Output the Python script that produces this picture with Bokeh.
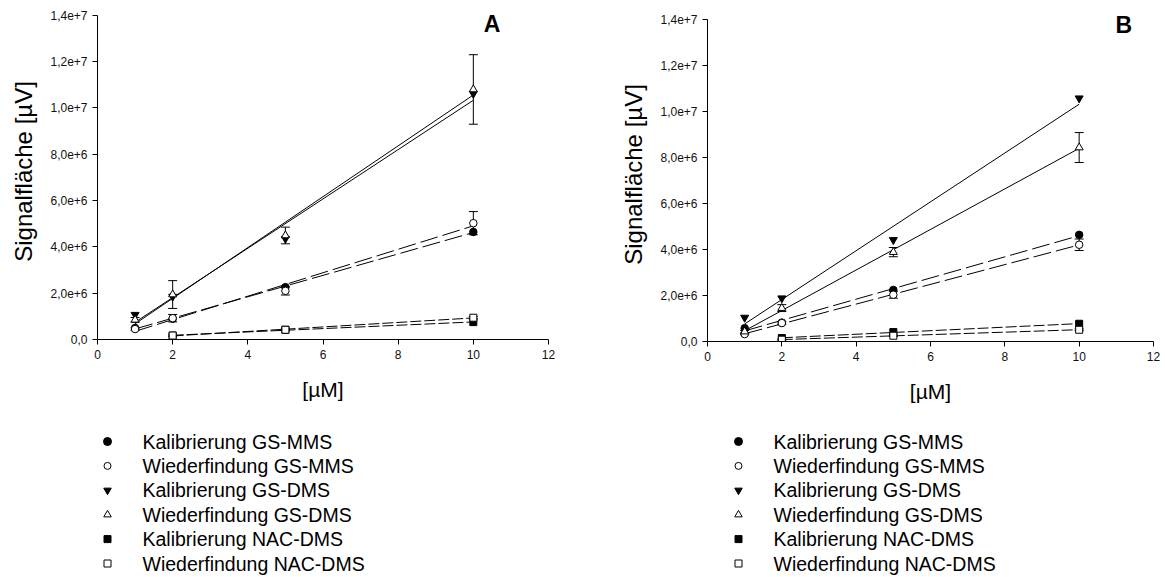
import numpy as np
from bokeh.plotting import figure
from bokeh.models import (ColumnDataSource, Whisker, TeeHead, Label, Range1d,
                          FixedTicker)
from bokeh.layouts import row, column
from bokeh.embed import file_html
from bokeh.resources import INLINE
from bokeh.core.properties import value

# ---------------- data ----------------
x_gs = [1, 2, 5, 10]
x_nac = [2, 5, 10]

legend_labels = ["Kalibrierung GS-MMS", "Wiederfindung GS-MMS",
                 "Kalibrierung GS-DMS", "Wiederfindung GS-DMS",
                 "Kalibrierung NAC-DMS", "Wiederfindung NAC-DMS"]

# Panel A
a_kal_mms = [0.50e6, 0.90e6, 2.26e6, 4.64e6]
a_wf_mms = [0.45e6, 0.92e6, 2.10e6, 5.02e6]
a_wf_mms_err = [0.05e6, 0.16e6, 0.18e6, 0.50e6]
a_kal_dms = [1.07e6, 1.85e6, 4.35e6, 10.61e6]
a_wf_dms = [0.85e6, 1.94e6, 4.49e6, 10.79e6]
a_wf_dms_err = [0.10e6, 0.60e6, 0.36e6, 1.50e6]
a_kal_nac = [0.17e6, 0.42e6, 0.75e6]
a_wf_nac = [0.17e6, 0.42e6, 0.94e6]
a_wf_nac_err = [0.03e6, 0.04e6, 0.05e6]

# Panel B
b_kal_mms = [0.58e6, 0.82e6, 2.24e6, 4.63e6]
b_wf_mms = [0.32e6, 0.80e6, 2.03e6, 4.20e6]
b_wf_mms_err = [0.03e6, 0.06e6, 0.15e6, 0.25e6]
b_kal_dms = [1.04e6, 1.88e6, 4.41e6, 10.56e6]
b_wf_dms = [0.43e6, 1.45e6, 3.88e6, 8.42e6]
b_wf_dms_err = [0.05e6, 0.15e6, 0.20e6, 0.65e6]
b_kal_nac = [0.15e6, 0.41e6, 0.77e6]
b_wf_nac = [0.08e6, 0.25e6, 0.51e6]
b_wf_nac_err = [0.02e6, 0.03e6, 0.04e6]

x_ticks = [0, 2, 4, 6, 8, 10, 12]
y_ticks = [0, 2e6, 4e6, 6e6, 8e6, 10e6, 12e6, 14e6]
y_tick_labels = ["0,0", "2,0e+6", "4,0e+6", "6,0e+6", "8,0e+6",
                 "1,0e+7", "1,2e+7", "1,4e+7"]

FONT = "Liberation Sans"
Y_TOP = 1.45e7


def make_panel(letter, letter_pos, series, frame, col_w, fig_h):
    bl, bt, fw, fh = frame
    p = figure(width=col_w, height=fig_h, x_range=Range1d(0, 12),
               y_range=Range1d(0, Y_TOP), output_backend="svg",
               toolbar_location=None,
               min_border_left=bl, min_border_top=bt,
               min_border_right=col_w - bl - fw,
               min_border_bottom=fig_h - bt - fh)
    p.grid.visible = False
    p.outline_line_color = None
    p.background_fill_color = "white"
    p.border_fill_color = "white"

    for ax in (p.xaxis[0], p.yaxis[0]):
        ax.axis_line_color = "black"
        ax.axis_line_width = 1
        ax.major_tick_line_color = "black"
        ax.major_tick_out = 5
        ax.major_tick_in = 0
        ax.minor_tick_line_color = None
        ax.major_label_text_font = FONT
        ax.major_label_text_font_size = "12px"
        ax.major_label_text_color = "#111111"
        ax.axis_label_text_font = FONT
        ax.axis_label_text_font_style = "normal"
        ax.axis_label_text_color = "black"

    p.xaxis.ticker = FixedTicker(ticks=x_ticks)
    p.yaxis.ticker = FixedTicker(ticks=y_ticks)
    p.yaxis.bounds = (y_ticks[0], y_ticks[-1])
    p.yaxis.major_label_overrides = {t: l for t, l in zip(y_ticks, y_tick_labels)}
    p.xaxis.axis_label = "[µM]"
    p.xaxis.axis_label_text_font_size = "21px"
    p.xaxis.major_label_standoff = 5
    p.xaxis.axis_label_standoff = 16
    p.yaxis.axis_label = "Signalfläche [µV]"
    p.yaxis.axis_label_text_font_size = "24px"
    p.yaxis.major_label_standoff = 5
    p.yaxis.axis_label_standoff = 10

    dashes = {"mms": "18 5", "dms": "solid", "nac": "11 3"}
    # regression lines
    for xs, ys, kind in series["lines"]:
        k, d = np.polyfit(xs, ys, 1)
        xl = [xs[0], xs[-1]]
        yl = [k * xs[0] + d, k * xs[-1] + d]
        p.line(xl, yl, line_color="black", line_width=1,
               line_dash=dashes[kind])
    # error bars
    for xs, ys, es in series["errors"]:
        src = ColumnDataSource(dict(x=xs,
                                    up=[y + e for y, e in zip(ys, es)],
                                    lo=[y - e for y, e in zip(ys, es)]))
        w = Whisker(base="x", upper="up", lower="lo", source=src,
                    line_color="black", line_width=1,
                    upper_head=TeeHead(size=9, line_color="black", line_width=1),
                    lower_head=TeeHead(size=9, line_color="black", line_width=1))
        p.add_layout(w)
    # markers
    for xs, ys, marker, filled, size in series["markers"]:
        p.scatter(xs, ys, marker=marker, size=size,
                  fill_color="black" if filled else "white",
                  line_color="black", line_width=1)

    p.add_layout(Label(x=letter_pos[0], y=letter_pos[1], text=letter,
                       text_font=FONT, text_font_size="23px",
                       text_font_style="bold", text_align="center",
                       text_baseline="middle", text_color="black"))
    return p


def make_legend(col_w, leg_h, frame, mx, tx, y0, dy):
    bl, bt, fw, fh = frame
    q = figure(width=col_w, height=leg_h, x_range=Range1d(0, fw),
               y_range=Range1d(leg_h, 0), output_backend="svg",
               toolbar_location=None, min_border_left=bl,
               min_border_right=col_w - bl - fw, min_border_top=0,
               min_border_bottom=0)
    q.axis.visible = False
    q.grid.visible = False
    q.outline_line_color = None
    markers = ["circle", "circle", "inverted_triangle", "triangle",
               "square", "square"]
    filled = [True, False, True, False, True, False]
    sizes = [8, 7, 7.5, 7.5, 7, 7]
    ys = [y0 + dy * i for i in range(len(legend_labels))]
    for i in range(len(legend_labels)):
        q.scatter([mx], [ys[i]], marker=markers[i], size=sizes[i],
                  fill_color="black" if filled[i] else "white",
                  line_color="black", line_width=1)
    q.text(x=[tx] * len(legend_labels), y=ys, text=legend_labels,
           text_font=value(FONT), text_font_size="19.5px",
           text_baseline="middle", text_align="left", text_color="black")
    return q


series_a = {
    "lines": [(x_gs, a_kal_mms, "mms"), (x_gs, a_wf_mms, "mms"),
              (x_gs, a_kal_dms, "dms"), (x_gs, a_wf_dms, "dms"),
              (x_nac, a_kal_nac, "nac"), (x_nac, a_wf_nac, "nac")],
    "errors": [(x_gs, a_wf_mms, a_wf_mms_err), (x_gs, a_wf_dms, a_wf_dms_err),
               (x_nac, a_wf_nac, a_wf_nac_err)],
    "markers": [(x_gs, a_kal_mms, "circle", True, 7.5),
                (x_gs, a_wf_mms, "circle", False, 7.5),
                (x_gs, a_kal_dms, "inverted_triangle", True, 8),
                (x_gs, a_wf_dms, "triangle", False, 8),
                (x_nac, a_kal_nac, "square", True, 7),
                (x_nac, a_wf_nac, "square", False, 7)],
}
series_b = {
    "lines": [(x_gs, b_kal_mms, "mms"), (x_gs, b_wf_mms, "mms"),
              (x_gs, b_kal_dms, "dms"), (x_gs, b_wf_dms, "dms"),
              (x_nac, b_kal_nac, "nac"), (x_nac, b_wf_nac, "nac")],
    "errors": [(x_gs, b_wf_mms, b_wf_mms_err), (x_gs, b_wf_dms, b_wf_dms_err),
               (x_nac, b_wf_nac, b_wf_nac_err)],
    "markers": [(x_gs, b_kal_mms, "circle", True, 7.5),
                (x_gs, b_wf_mms, "circle", False, 7.5),
                (x_gs, b_kal_dms, "inverted_triangle", True, 8),
                (x_gs, b_wf_dms, "triangle", False, 8),
                (x_nac, b_kal_nac, "square", True, 7),
                (x_nac, b_wf_nac, "square", False, 7)],
}

FIG_H = 405
LEG_H = 172
COL_A = 600
COL_B = 565
FRAME_A = (97, 3, 451, 336)
FRAME_B = (107, 7, 446, 335)

pA = make_panel("A", (10.5, 1.36e7), series_a, FRAME_A, COL_A, FIG_H)
pB = make_panel("B", (11.2, 1.375e7), series_b, FRAME_B, COL_B, FIG_H)
lA = make_legend(COL_A, LEG_H, FRAME_A, 10, 45, 36, 24.4)
lB = make_legend(COL_B, LEG_H, FRAME_B, 31, 66, 36, 24.4)

layout = row(column(pA, lA), column(pB, lB))

with open("out.html", "w") as f:
    f.write(file_html(layout, INLINE))
